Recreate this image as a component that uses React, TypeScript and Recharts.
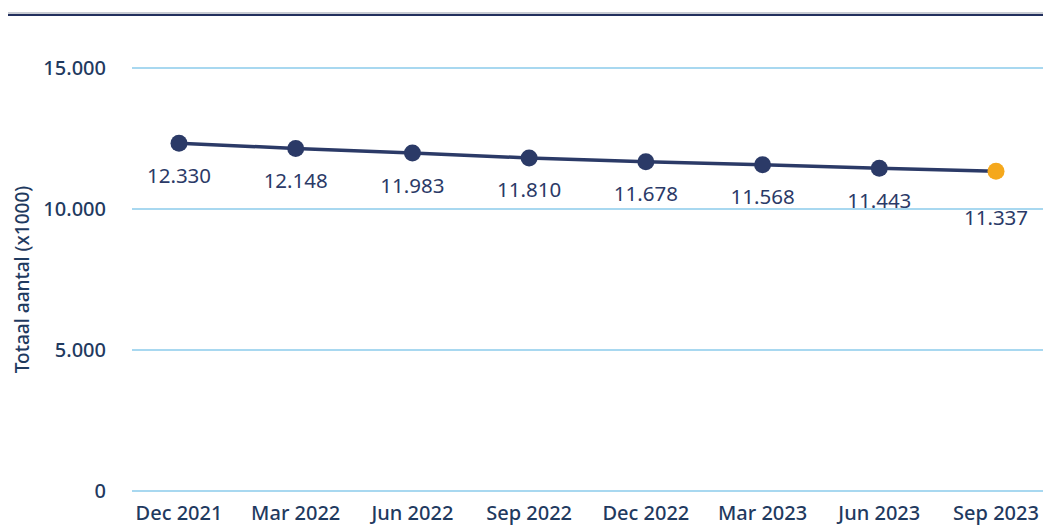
import React from 'react';
import { LineChart, Line, XAxis, YAxis, CartesianGrid, LabelList } from 'recharts';

const months = ['Dec 2021', 'Mar 2022', 'Jun 2022', 'Sep 2022', 'Dec 2022', 'Mar 2023', 'Jun 2023', 'Sep 2023'];
const totals = [12330, 12148, 11983, 11810, 11678, 11568, 11443, 11337];
const yTicks = [0, 5000, 10000, 15000];

const data = months.map((month, i) => ({ month, total: totals[i] }));

const navy = '#2b3a67';
const textColor = '#1f3a5f';
const fontFamily = '"Noto Sans", Roboto, sans-serif';

const fmt = (v: number) => v.toLocaleString('de-DE');

const renderDot = (props: any) => {
  const { cx, cy, index } = props;
  const last = index === data.length - 1;
  return <circle key={`dot-${index}`} cx={cx} cy={cy} r={8.5} fill={last ? '#f5a81c' : navy} />;
};

const renderLabel = (props: any) => {
  const { x, y, value, index } = props;
  const dy = index === data.length - 1 ? 48 : 34;
  return (
    <text x={x} y={y + dy} textAnchor="middle" dominantBaseline="middle" fill={navy} fontSize={20.5} fontFamily={fontFamily}>
      {fmt(value)}
    </text>
  );
};

const App: React.FC = () => {
  return (
    <div style={{ position: 'absolute', left: 0, top: 0, width: 1043, height: 525, background: '#fff' }}>
      <div style={{ position: 'absolute', left: 8, right: 0, top: 12, height: 2, background: '#c9ccd3' }} />
      <div style={{ position: 'absolute', left: 8, right: 0, top: 14, height: 2, background: '#22305e' }} />
      <LineChart width={1043} height={525} data={data} margin={{ top: 68, right: 0, left: 0, bottom: 4 }}>
        <CartesianGrid horizontal vertical={false} stroke="#a8d8f0" strokeWidth={2} />
        <XAxis
          dataKey="month"
          axisLine={false}
          tickLine={false}
          padding={{ left: 47, right: 47 }}
          tickMargin={9}
          height={30}
          interval={0}
          tick={{ fill: textColor, fontSize: 20, fontWeight: 500, fontFamily }}
        />
        <YAxis
          domain={[0, 15000]}
          ticks={yTicks}
          width={132}
          axisLine={false}
          tickLine={false}
          tickMargin={20}
          tickFormatter={fmt}
          tick={{ fill: textColor, fontSize: 20, fontWeight: 500, fontFamily }}
          label={{
            value: 'Totaal aantal (x1000)',
            angle: -90,
            position: 'insideLeft',
            offset: 22,
            style: { fill: textColor, fontSize: 19, fontWeight: 500, fontFamily, textAnchor: 'middle' },
          }}
        />
        <Line
          type="linear"
          dataKey="total"
          stroke={navy}
          strokeWidth={3.5}
          dot={renderDot}
          activeDot={false}
          isAnimationActive={false}
        >
          <LabelList dataKey="total" content={renderLabel} />
        </Line>
      </LineChart>
    </div>
  );
};

export default App;
